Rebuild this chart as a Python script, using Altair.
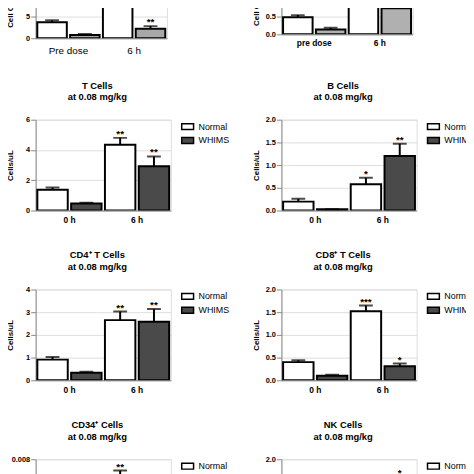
import altair as alt
import pandas as pd

FONT = "Liberation Sans"
groups = ["Normal", "WHIMS"]

# each panel: values ordered [Normal t1, WHIMS t1, Normal t2, WHIMS t2]
p1_times = ["Pre dose", "6 h"]
p1_mean = [3.65, 0.74, 12.0, 2.17]
p1_top = [4.1, 0.96, 13.2, 2.76]
p1_star = ["", "", "", "**"]

p2_times = ["pre dose", "6 h"]
p2_mean = [0.49, 0.14, 1.45, 0.745]
p2_top = [0.55, 0.19, 1.58, 0.86]
p2_star = ["", "", "", ""]

h_times = ["0 h", "6 h"]

t_mean = [1.37, 0.46, 4.35, 2.93]
t_top = [1.52, 0.52, 4.8, 3.57]
t_star = ["", "", "**", "**"]

b_mean = [0.196, 0.03, 0.58, 1.2]
b_top = [0.26, 0.03, 0.72, 1.47]
b_star = ["", "", "*", "**"]

cd4_mean = [0.91, 0.33, 2.65, 2.58]
cd4_top = [1.03, 0.38, 3.03, 3.14]
cd4_star = ["", "", "**", "**"]

cd8_mean = [0.4, 0.1, 1.52, 0.31]
cd8_top = [0.44, 0.12, 1.645, 0.37]
cd8_star = ["", "", "***", "*"]

cd34_mean = [0.0009, 0.0002, 0.0062, 0.0015]
cd34_top = [0.0011, 0.0003, 0.0070, 0.0019]
cd34_star = ["", "", "**", ""]

nk_mean = [0.35, 0.1, 0.8, 1.4]
nk_top = [0.42, 0.13, 1.0, 1.6]
nk_star = ["", "", "", "*"]

SUB = "at 0.08 mg/kg"


def panel(times, means, tops, stars, ymax, ticks, fmt, ytitle, color,
          title=None, width=137, height=92, xlab_weight="bold", xlab_size=8.5,
          xlab_pad=5):
    rows = []
    for i, (m, t, s) in enumerate(zip(means, tops, stars)):
        rows.append({"time": times[i // 2], "group": groups[i % 2],
                     "mean": m, "top": t, "star": s})
    df = pd.DataFrame(rows)
    base = alt.Chart(df).encode(
        x=alt.X("time:N", sort=times,
                scale=alt.Scale(paddingInner=0, paddingOuter=0),
                axis=alt.Axis(title=None, labelAngle=0, ticks=False,
                              labelFontWeight=xlab_weight, labelFontSize=xlab_size,
                              labelPadding=xlab_pad, labelColor="black")),
        xOffset=alt.XOffset("group:N", sort=groups,
                            scale=alt.Scale(paddingInner=0.1, paddingOuter=0.05)),
    )
    yscale = alt.Scale(domain=[0, ymax], nice=False, zero=True)
    yaxis = alt.Axis(title=ytitle, values=ticks, format=fmt, labelFontSize=7.5,
                     labelFontWeight="bold", labelPadding=1, titleFontSize=8,
                     titleFontWeight="bold", titleX=-21, labelColor="black",
                     titleColor="black")
    bars = base.mark_bar(stroke="black", strokeWidth=2, clip=True).encode(
        y=alt.Y("mean:Q", scale=yscale, axis=yaxis),
        fill=alt.Fill("group:N", sort=groups,
                      scale=alt.Scale(domain=groups, range=["white", color]),
                      legend=alt.Legend(title=None, orient="right", offset=10,
                                        symbolType="M-1,-0.5H1V0.5H-1Z",
                                        symbolSize=144, symbolStrokeColor="black",
                                        symbolStrokeWidth=1.5, labelFontSize=9,
                                        labelFont=FONT, rowPadding=1, labelOffset=4,
                                        padding=0, labelColor="black")),
    )
    rule = base.mark_rule(color="black", strokeWidth=2, clip=True).encode(
        y=alt.Y("mean:Q", scale=yscale, axis=yaxis), y2="top:Q")
    cap = base.mark_tick(color="black", thickness=2, size=14, clip=True).encode(
        y=alt.Y("top:Q", scale=yscale, axis=yaxis, title=ytitle))
    txt = base.transform_filter("datum.star != ''").mark_text(
        fontSize=10, fontWeight="bold", font=FONT,
        baseline="alphabetic", dy=-1, color="black").encode(
        y=alt.Y("top:Q", scale=yscale, axis=yaxis, title=ytitle), text="star:N")
    ch = alt.layer(rule, bars, cap, txt).properties(width=width, height=height)
    if title is not None:
        ch = ch.properties(title=alt.TitleParams(
            [title, SUB], fontSize=9.5, fontWeight="bold", font=FONT,
            anchor="middle", frame="group", dx=-6, offset=14, lineHeight=12,
            color="black"))
    return ch


IND = dict(fill="independent", x="independent", y="independent",
           xOffset="independent")


def row(a, b, spacing=22):
    return alt.hconcat(a, b, spacing=spacing).resolve_scale(**IND)


r1 = row(
    panel(p1_times, p1_mean, p1_top, p1_star, 13.9, [0, 5, 10], "d",
          "Cell Count", "#a8a8a8", width=133, height=62, xlab_weight="normal",
          xlab_size=10, xlab_pad=7),
    panel(p2_times, p2_mean, p2_top, p2_star, 1.64, [0, 0.5, 1.0, 1.5],
          ".1f", "Cell Count", "#b0b0b0", width=133, height=58, xlab_pad=4.5),
    spacing=26)
r2 = row(
    panel(h_times, t_mean, t_top, t_star, 6, [0, 2, 4, 6], "d", "Cells/uL",
          "#4a4a4a", title="T Cells"),
    panel(h_times, b_mean, b_top, b_star, 2, [0, 0.5, 1.0, 1.5, 2.0], ".1f",
          "Cells/uL", "#4a4a4a", title="B Cells"))
r3 = row(
    panel(h_times, cd4_mean, cd4_top, cd4_star, 4, [0, 1, 2, 3, 4], "d",
          "Cells/uL", "#4a4a4a", title="CD4\u207a T Cells"),
    panel(h_times, cd8_mean, cd8_top, cd8_star, 2, [0, 0.5, 1.0, 1.5, 2.0], ".1f",
          "Cells/uL", "#4a4a4a", title="CD8\u207a T Cells"))
r4 = row(
    panel(h_times, cd34_mean, cd34_top, cd34_star, 0.008,
          [0, 0.002, 0.004, 0.006, 0.008], ".3f", "Cells/uL", "#4a4a4a",
          title="CD34\u207a Cells"),
    panel(h_times, nk_mean, nk_top, nk_star, 2, [0, 0.5, 1.0, 1.5, 2.0], ".1f",
          "Cells/uL", "#4a4a4a", title="NK Cells"))

lower = alt.vconcat(r2, r3, r4, spacing=26).resolve_scale(**IND)

chart = alt.vconcat(r1, lower, spacing=24.5).resolve_scale(**IND).properties(
    padding={"left": -2, "top": -36, "right": -10, "bottom": 0}
).configure_view(stroke=None).configure_axis(
    domainColor="black", domainWidth=2, tickColor="black", tickWidth=1.5,
    tickSize=3, grid=False, labelFont=FONT, titleFont=FONT
).configure(background="white")

chart.save("out.html", embed_options={"renderer": "svg", "actions": False})
